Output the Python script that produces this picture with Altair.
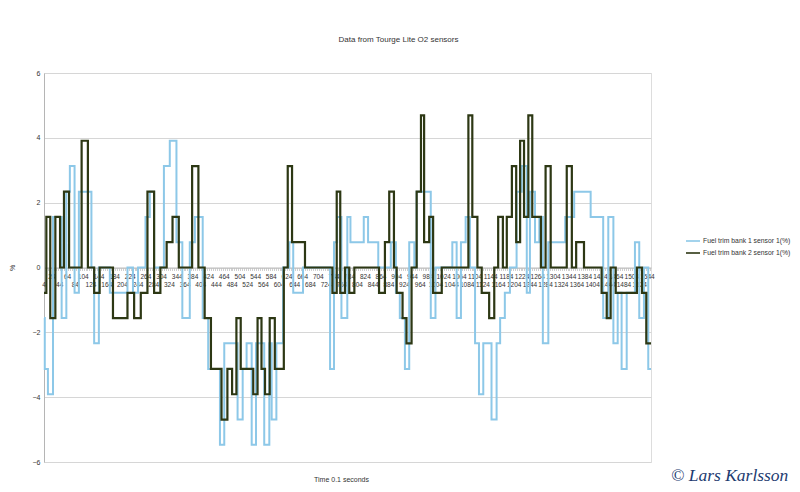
import altair as alt
import pandas as pd

S1 = "Fuel trim bank 1 sensor 1(%)"
S2 = "Fuel trim bank 2 sensor 1(%)"

# bank 1 (light blue) step series: start time of each step and its value
t_blue = [4, 6, 14, 27, 49, 61, 70, 82, 93, 125,
          132, 144, 172, 217, 231, 244, 263, 274, 285, 310,
          325, 342, 357, 376, 389, 409, 423, 453, 464, 498,
          511, 521, 534, 545, 566, 579, 585, 597, 614, 630,
          640, 665, 734, 744, 752, 763, 778, 786, 820, 831,
          857, 889, 902, 912, 925, 936, 949, 955, 991, 1003,
          1046, 1057, 1068, 1080, 1091, 1104, 1114, 1125, 1146, 1159,
          1168, 1180, 1193, 1210, 1223, 1236, 1244, 1257, 1268, 1277,
          1291, 1334, 1357, 1399, 1431, 1444, 1457, 1468, 1478, 1491,
          1512, 1523, 1535, 1546, 1553]
v_blue = [-1.56, -3.13, -3.91, 1.56, -1.56, 2.34, 3.13, -0.78, 2.34, 0,
          -2.34, 0, -0.78, 0, -0.78, 0, 1.56, 2.34, 0, 3.13,
          3.91, 0.78, -1.56, 0.78, 1.56, -1.56, -3.13, -5.47, -2.34, -4.69,
          -3.13, -2.34, -5.47, -2.34, -5.47, -2.34, -4.69, -2.34, 0, 0.78,
          -0.78, 0, -3.13, 0.78, 1.56, -1.56, 1.56, 0.78, 1.56, 0.78,
          0, 0.78, -0.78, -1.56, -3.13, 0.78, 0, 2.34, -1.56, 0,
          0.78, -1.56, 0.78, 1.56, 0, -2.34, -3.91, -2.34, -4.69, -2.34,
          -1.56, -0.78, 0, 2.34, 3.13, -0.78, 2.34, 0.78, 1.56, -2.34,
          0.78, 1.56, 2.34, 1.56, -1.56, 1.56, -2.34, -0.78, -3.13, -0.78,
          0.78, -1.56, 0, -3.13, -3.13]

# bank 2 (dark olive) step series
t_green = [4, 10, 20, 33, 45, 55, 68, 100, 116, 132,
           146, 180, 217, 234, 251, 268, 285, 301, 317, 332,
           348, 382, 398, 414, 430, 457, 472, 484, 495, 506,
           538, 549, 559, 568, 580, 593, 616, 626, 637, 670,
           740, 751, 760, 772, 783, 796, 859, 874, 885, 897,
           904, 919, 929, 942, 955, 966, 974, 987, 997, 1019,
           1087, 1097, 1110, 1121, 1140, 1153, 1163, 1175, 1185, 1198,
           1209, 1219, 1229, 1240, 1250, 1272, 1284, 1297, 1338, 1351,
           1362, 1382, 1427, 1440, 1450, 1463, 1517, 1530, 1541, 1553]
v_green = [-0.78, 1.56, -1.56, 1.56, 0, 2.34, 0, 3.91, 0, -0.78,
           0, -1.56, -0.78, -1.56, -0.78, 2.34, -0.78, 0, 0.78, 1.56,
           0, 3.13, 0, -1.56, -3.13, -4.69, -3.13, -3.91, -1.56, -3.13,
           -3.91, -1.56, -3.13, -3.91, -1.56, -3.13, 0, 3.13, 0.78, 0,
           -0.78, 2.34, -0.78, 0, -0.78, 0, -0.78, 0.78, 2.34, 0,
           -0.78, -1.56, -2.34, 0, 2.34, 4.69, 0.78, 1.56, -0.78, 0,
           4.69, 1.56, 0, -0.78, -1.56, 0, 1.56, 0, 1.56, 3.13,
           0.78, 3.91, 1.56, 4.69, 1.56, 0, 3.13, 0, 3.13, 0,
           0.78, 0, -0.78, -1.56, 0, -0.78, 0, -0.78, -2.34, -2.34]

# category labels drawn along the zero line, in two staggered rows
labels_row1 = [24, 64, 104, 144, 184, 224, 264, 304, 344, 384,
               424, 464, 504, 544, 584, 624, 664, 704, 744, 784,
               824, 864, 904, 944, 984, 1024, 1064, 1104, 1144, 1184,
               1224, 1264, 1304, 1344, 1384, 1424, 1464, 1504, 1544]
labels_row2 = [4, 44, 84, 124, 164, 204, 244, 284, 324, 364,
               404, 444, 484, 524, 564, 604, 644, 684, 724, 764,
               804, 844, 884, 924, 964, 1004, 1044, 1084, 1124, 1164,
               1204, 1244, 1284, 1324, 1364, 1404, 1444, 1484, 1524]

y_ticks = [-6, -4, -2, 0, 2, 4, 6]

BLUE = "#8dc8e8"
GREEN = "#2d3814"
TXT = "#333333"
FONT = "Liberation Sans"

W, H = 607, 389

df = pd.concat([
    pd.DataFrame({"t": t_blue, "v": v_blue, "s": S1}),
    pd.DataFrame({"t": t_green, "v": v_green, "s": S2}),
], ignore_index=True)

lab1 = pd.DataFrame({"t": labels_row1, "v": 0, "lab": [str(v) for v in labels_row1]})
lab2 = pd.DataFrame({"t": labels_row2, "v": 0, "lab": [str(v) for v in labels_row2]})

xs = alt.Scale(domain=[4, 1553], nice=False, zero=False)
ys = alt.Scale(domain=[-6, 6], nice=False)

color = alt.Color(
    "s:N",
    scale=alt.Scale(domain=[S1, S2], range=[BLUE, GREEN]),
    legend=alt.Legend(
        title=None, orient="none", legendX=641, legendY=160,
        symbolType="stroke", symbolSize=196, symbolStrokeWidth=1.6,
        labelFontSize=6.8, labelColor=TXT, labelFont=FONT, labelOffset=2,
        rowPadding=-2,
    ),
)

x_axis = alt.Axis(
    offset=-H / 2, labels=False, tickCount=300, tickSize=3,
    tickColor="#c4c4c4", tickWidth=0.8, domainColor="#bdbdbd", grid=False,
    title="Time 0.1 seconds", titleX=297, titleY=212, titleAlign="center",
    titleBaseline="middle", titleFontSize=7, titleFontWeight="normal",
    titleColor=TXT, titleFont=FONT,
)
y_axis = alt.Axis(
    values=y_ticks, grid=True, gridColor="#d6d6d6", domainColor="#b5b5b5",
    ticks=False, labelPadding=4, labelFontSize=7, labelColor=TXT,
    labelFont=FONT, title="%", titleX=-32, titleY=H / 2, titleAngle=270,
    titleAlign="center", titleBaseline="middle", titleFontSize=7,
    titleFontWeight="normal", titleColor=TXT, titleFont=FONT,
)

X = alt.X("t:Q", scale=xs, axis=x_axis)
Y = alt.Y("v:Q", scale=ys, axis=y_axis)

base = alt.Chart(df)

blue = base.transform_filter(alt.datum.s == S1).mark_line(
    interpolate="step-after", strokeWidth=2
).encode(x=X, y=Y, color=color)
green = base.transform_filter(alt.datum.s == S2).mark_line(
    interpolate="step-after", strokeWidth=2.2
).encode(x=X, y=Y, color=color)

row1 = alt.Chart(lab1).mark_text(
    fontSize=6.5, color=TXT, font=FONT, baseline="middle", dy=9
).encode(x=X, y=Y, text="lab:N")
row2 = alt.Chart(lab2).mark_text(
    fontSize=6.5, color=TXT, font=FONT, baseline="middle", dy=17
).encode(x=X, y=Y, text="lab:N")

mark_df = pd.DataFrame({"txt": ["\u00a9 Lars Karlsson"]})
watermark = alt.Chart(mark_df).mark_text(
    font="Liberation Serif", fontStyle="italic", fontSize=17.5,
    color="#1d3b70", align="left", baseline="middle",
).encode(x=alt.value(627), y=alt.value(403), text="txt:N")

chart = alt.layer(row1, row2, blue, green, watermark).properties(
    width=W, height=H,
    title=alt.TitleParams(
        "Data from Tourge Lite O2 sensors", fontSize=8, fontWeight="normal",
        color=TXT, font=FONT, offset=25, dx=51,
    ),
    autosize="none",
    padding={"left": 36, "top": 65, "right": 141, "bottom": 22},
).configure_view(
    stroke="#c8c8c8"
).configure(background="white")

chart.save("out.html", embed_options={"renderer": "svg", "actions": False})
